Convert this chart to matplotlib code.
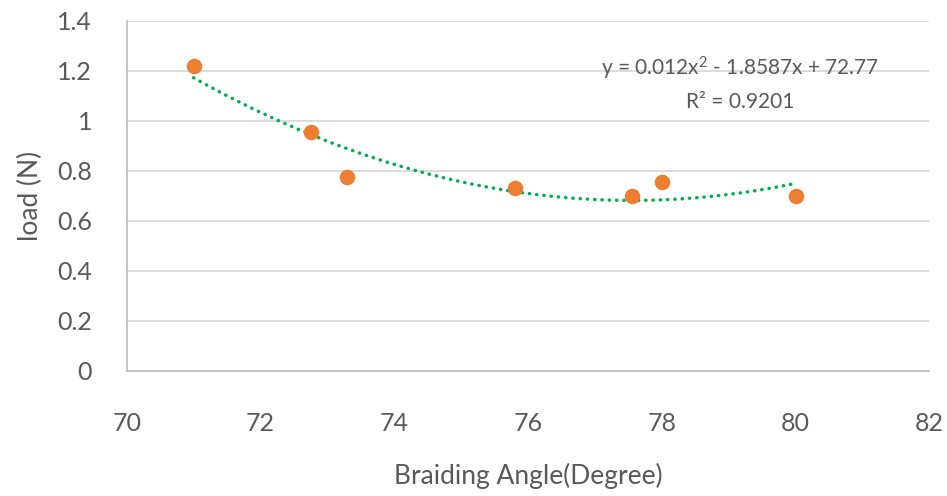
import numpy as np
import matplotlib
matplotlib.use("Agg")
import matplotlib.pyplot as plt

# data
angle = [71.0, 72.75, 73.3, 75.8, 77.55, 78.0, 80.0]
load = [1.22, 0.956, 0.774, 0.732, 0.700, 0.756, 0.699]

xticks = [70, 72, 74, 76, 78, 80, 82]
yticks = [0, 0.2, 0.4, 0.6, 0.8, 1.0, 1.2, 1.4]
ytick_labels = ["0", "0.2", "0.4", "0.6", "0.8", "1", "1.2", "1.4"]

eq_text = "y = 0.012x$^2$ - 1.8587x + 72.77"
r2_text = "R² = 0.9201"

txt = "#595959"
plt.rcParams['font.family'] = ['Lato', 'DejaVu Sans']
plt.rcParams['mathtext.default'] = 'regular'

fig = plt.figure(figsize=(9.47, 4.96), dpi=100)
ax = fig.add_axes([0.1338, 0.2526, 0.9815 - 0.1338, 0.958 - 0.2526])

# second order trendline (like Excel's poly fit)
coef = np.polyfit(angle, load, 2)
xf = np.linspace(min(angle), max(angle), 200)
ax.plot(xf, np.polyval(coef, xf), color="#00B050", lw=2.5,
        linestyle=(0, (0.1, 2.0)), dash_capstyle="round", zorder=2)

ax.scatter(angle, load, s=125, color="#ED7D31", zorder=3, linewidths=0)

ax.set_xlim(70, 82)
ax.set_ylim(0, 1.4)
ax.set_xticks(xticks)
ax.set_yticks(yticks)
ax.set_yticklabels(ytick_labels)
ax.grid(axis="y", color="#D9D9D9", lw=1.3, zorder=0)
ax.set_axisbelow(True)
for s in ["top", "right"]:
    ax.spines[s].set_visible(False)
ax.spines["left"].set_color("#BFBFBF")
ax.spines["bottom"].set_color("#BFBFBF")
ax.spines["left"].set_linewidth(1.3)
ax.spines["bottom"].set_linewidth(1.3)
ax.tick_params(length=0, labelsize=18, labelcolor=txt)
ax.tick_params(axis="x", pad=30)
ax.tick_params(axis="y", pad=25)

ax.set_xlabel("Braiding Angle(Degree)", fontsize=19, color=txt, labelpad=20)
ax.set_ylabel("load (N)", fontsize=19, color=txt, labelpad=10)

ax.text(79.17, 1.21, eq_text, ha="center", va="center", fontsize=15, color=txt)
ax.text(79.17, 1.075, r2_text, ha="center", va="center", fontsize=15, color=txt)

fig.savefig("out.png", dpi=100)
